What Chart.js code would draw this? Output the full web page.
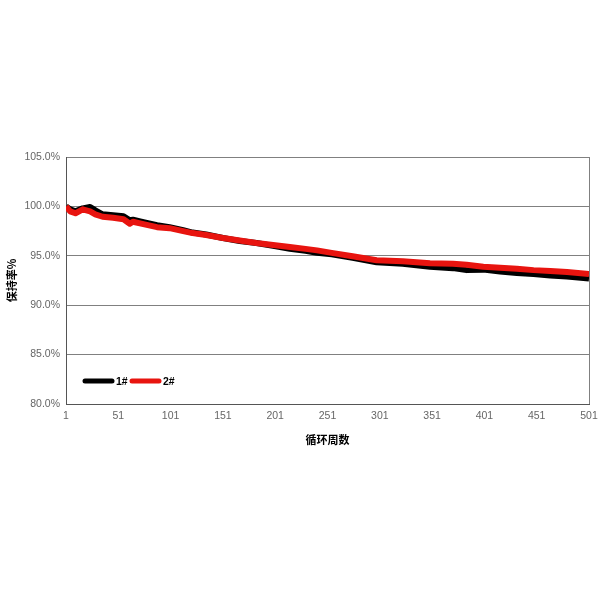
<!DOCTYPE html>
<html>
<head>
<meta charset="utf-8">
<script src="https://cdn.jsdelivr.net/npm/chart.js@4"></script>
<style>
  html, body { margin: 0; padding: 0; background: #fff; }
  #wrap { width: 600px; height: 600px; }
</style>
</head>
<body>
<div id="wrap"><canvas id="myChart"></canvas></div>
<script>
// cycle numbers of the sampled points
const cycles = [1, 5, 10, 17, 24, 29, 36, 46, 56, 62, 65, 75, 88, 100, 113, 122, 135, 151, 167, 183,
    199, 215, 230, 241, 255, 275, 298, 323, 349, 371, 384, 400, 416, 432, 448, 464, 480, 501];
// retention (%)
const cell1 = [100.0, 99.7, 99.5, 99.8, 99.95, 99.6, 99.2, 99.1, 99.0, 98.6, 98.65, 98.4, 98.1, 97.9, 97.6, 97.35, 97.15, 96.8, 96.5, 96.3,
    96.0, 95.7, 95.5, 95.3, 95.15, 94.8, 94.35, 94.2, 93.9, 93.75, 93.55, 93.6, 93.4, 93.25, 93.15, 93.0, 92.9, 92.7];
const cell2 = [100.0, 99.5, 99.3, 99.7, 99.5, 99.2, 98.95, 98.85, 98.7, 98.25, 98.45, 98.2, 97.9, 97.8, 97.5, 97.3, 97.1, 96.8, 96.55, 96.3,
    96.1, 95.9, 95.7, 95.55, 95.3, 94.95, 94.55, 94.45, 94.25, 94.2, 94.1, 93.9, 93.8, 93.7, 93.55, 93.45, 93.35, 93.15];
const seriesNames = ['1#', '2#'];
const seriesColors = ['#000000', '#e8140f'];
const xTicks = [1, 51, 101, 151, 201, 251, 301, 351, 401, 451, 501];
const yTicks = [80, 85, 90, 95, 100, 105];

const gridColor = '#808080';
const tickFont = { family: 'Liberation Sans', size: 10.5 };

// legend drawn inside the plot, bottom-left like the Excel one
const innerLegend = {
    id: 'innerLegend',
    afterDraw(chart) {
        const ctx = chart.ctx;
        const area = chart.chartArea;
        let x = area.left + 19;
        const y = area.bottom - 23;
        ctx.save();
        ctx.font = 'bold 10.5px "Liberation Sans"';
        ctx.textBaseline = 'middle';
        chart.data.datasets.forEach(ds => {
            ctx.strokeStyle = ds.borderColor;
            ctx.lineWidth = 5;
            ctx.lineCap = 'round';
            ctx.beginPath();
            ctx.moveTo(x, y);
            ctx.lineTo(x + 27, y);
            ctx.stroke();
            ctx.fillStyle = '#000';
            ctx.fillText(ds.label, x + 31, y + 1);
            x += 47;
        });
        ctx.restore();
    }
};

new Chart(document.getElementById('myChart'), {
    type: 'line',
    data: {
        datasets: [{
            label: seriesNames[0],
            data: cycles.map((c, i) => ({ x: c, y: cell1[i] })),
            borderColor: seriesColors[0],
            borderWidth: 6,
            borderJoinStyle: 'round',
            pointRadius: 0,
            order: 2
        }, {
            label: seriesNames[1],
            data: cycles.map((c, i) => ({ x: c, y: cell2[i] })),
            borderColor: seriesColors[1],
            borderWidth: 6,
            borderJoinStyle: 'round',
            pointRadius: 0,
            order: 1
        }]
    },
    options: {
        responsive: true,
        maintainAspectRatio: false,
        animation: false,
        layout: { padding: { top: 157, right: 11, left: 0, bottom: 150 } },
        plugins: {
            legend: { display: false },
            tooltip: { enabled: false }
        },
        scales: {
            x: {
                type: 'linear',
                min: 1,
                max: 501,
                afterBuildTicks: scale => { scale.ticks = xTicks.map(v => ({ value: v })); },
                afterFit: scale => {
                    scale.height = 46;
                    scale.paddingRight = 0;
                    scale.paddingLeft = 0;
                },
                ticks: { color: '#666666', font: tickFont, padding: 6, maxRotation: 0 },
                grid: {
                    drawTicks: false,
                    color: c => (c.tick && c.tick.value === 501) ? gridColor : 'rgba(0,0,0,0)'
                },
                border: { color: '#555555', width: 1 },
                title: {
                    display: true,
                    text: '循环周数',
                    color: '#000',
                    font: { family: 'Noto Sans CJK SC', size: 11, weight: 'bold' },
                    padding: { top: 2, bottom: 4 }
                }
            },
            y: {
                min: 80,
                max: 105,
                afterBuildTicks: scale => { scale.ticks = yTicks.map(v => ({ value: v })); },
                afterFit: scale => { scale.width = 66; },
                ticks: {
                    color: '#666666',
                    font: tickFont,
                    padding: 6,
                    callback: v => v.toFixed(1) + '%'
                },
                grid: { drawTicks: false, color: gridColor },
                border: { color: '#555555', width: 1 },
                title: {
                    display: true,
                    text: '保持率%',
                    color: '#000',
                    font: { family: 'Noto Sans CJK SC', size: 11, weight: 'bold' },
                    padding: { top: 5, bottom: 2 }
                }
            }
        }
    },
    plugins: [innerLegend]
});
</script>
</body>
</html>
